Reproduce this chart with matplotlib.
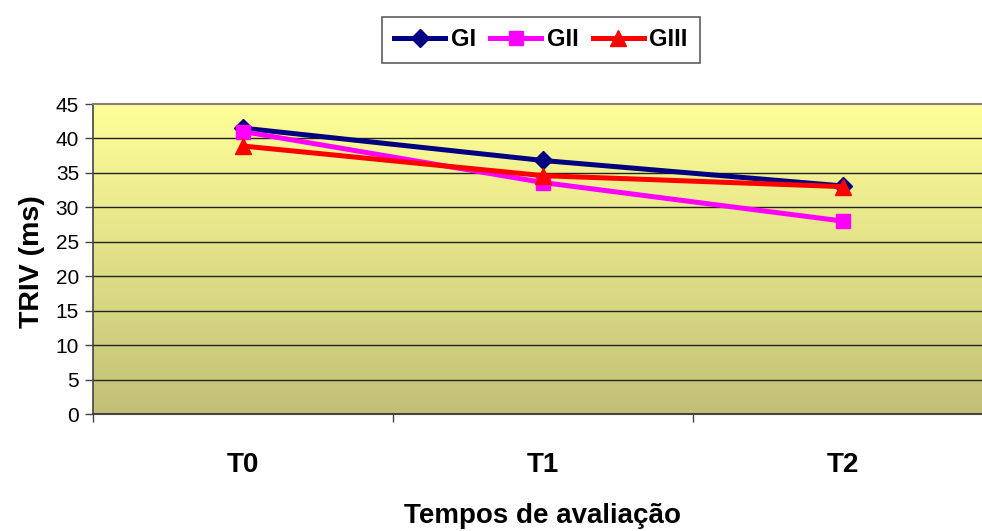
import numpy as np
import matplotlib
matplotlib.use("Agg")
import matplotlib.pyplot as plt
from matplotlib.colors import LinearSegmentedColormap
from matplotlib.lines import Line2D

categories = ["T0", "T1", "T2"]
gi = [41.5, 36.8, 33.1]
gii = [41.0, 33.6, 28.0]
giii = [38.9, 34.6, 33.0]
series_names = ["GI", "GII", "GIII"]
yticks = [0, 5, 10, 15, 20, 25, 30, 35, 40, 45]

plt.rcParams['font.family'] = ['Liberation Sans', 'DejaVu Sans']

fig = plt.figure(figsize=(9.82, 5.31), dpi=100)
ax = fig.add_axes([93/982, 1-414/531, 900/982, 310/531])

x = np.arange(len(categories))
# gradient background
cmap = LinearSegmentedColormap.from_list("bg", ["#C2C077", "#FFFF98"])
grad = np.linspace(0, 1, 256).reshape(-1, 1)
ax.imshow(grad, extent=(-0.5, 2.5, 0, 45), origin="lower", aspect="auto",
          cmap=cmap, zorder=0)

for v in yticks[1:-1]:
    ax.axhline(v, color="#222222", lw=1.0, zorder=1)

ax.plot(x, gi, color="#000080", lw=3.6, marker="D", ms=9, zorder=3)
ax.plot(x, gii, color="#FF00FF", lw=3.6, marker="s", ms=10, zorder=4)
ax.plot(x, giii, color="#FF0000", lw=3.6, marker="^", ms=11, zorder=5)

ax.set_xlim(-0.5, 2.5)
ax.set_ylim(0, 45)
ax.set_yticks(yticks)
ax.set_yticklabels([str(v) for v in yticks], fontsize=15)
ax.tick_params(axis="y", direction="out", length=6, width=1, color="#444444", pad=4)

ax.set_xticks([-0.5, 0.5, 1.5, 2.5])
ax.set_xticklabels([])
ax.tick_params(axis="x", which="major", direction="out", length=6, width=1, color="#444444")
ax.set_xticks(x, minor=True)
ax.set_xticklabels(categories, minor=True, fontsize=20, fontweight="bold")
ax.tick_params(axis="x", which="minor", length=0, pad=27.5)

ax.spines["top"].set_color("#808080")
ax.spines["top"].set_linewidth(1.5)
ax.spines["right"].set_visible(False)
ax.spines["left"].set_color("#444444")
ax.spines["left"].set_linewidth(1.2)
ax.spines["bottom"].set_color("#444444")
ax.spines["bottom"].set_linewidth(1.5)

ax.set_ylabel("TRIV (ms)", fontsize=20.5, fontweight="bold")
ax.yaxis.set_label_coords((45 - 93) / 900, 0.49)
fig.text(542/982, 1-516/531, "Tempos de avaliação", fontsize=20, fontweight="bold",
         ha="center", va="center")

handles = [
    Line2D([], [], color="#000080", lw=3.6, marker="D", ms=9),
    Line2D([], [], color="#FF00FF", lw=3.6, marker="s", ms=10),
    Line2D([], [], color="#FF0000", lw=3.6, marker="^", ms=11),
]
leg = fig.legend(handles, series_names, loc="center", bbox_to_anchor=(541/982, 1-40/531),
                 ncol=3, frameon=True, fancybox=False, edgecolor="#333333",
                 prop={"weight": "bold", "size": 17}, handlelength=2.15,
                 handletextpad=0.25, columnspacing=0.6, borderpad=0.5,
                 borderaxespad=0)
leg.get_frame().set_linewidth(1.2)

fig.savefig("out.png", dpi=100)
